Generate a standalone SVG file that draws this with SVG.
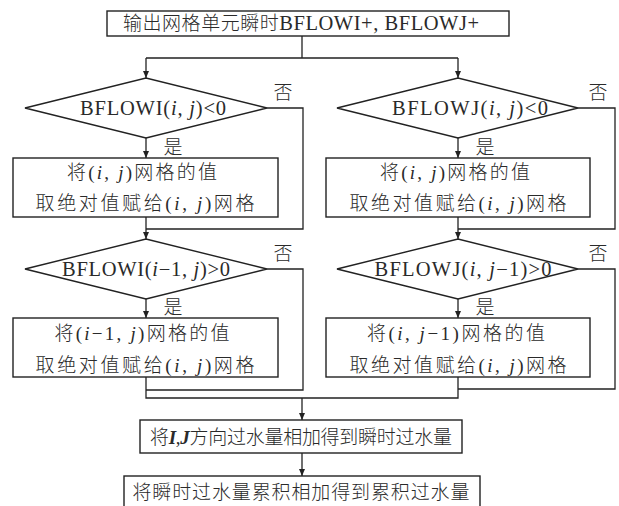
<svg xmlns="http://www.w3.org/2000/svg" width="619" height="506" viewBox="0 0 619 506">
<style>
.box{fill:#fff;stroke:#222;stroke-width:1.4}
.ln{fill:none;stroke:#222;stroke-width:1.3}
text{font-family:"Liberation Serif","Noto Sans CJK SC",serif;font-size:19px;font-weight:300;fill:#2a2a2a;text-anchor:middle}
.lat{font-size:20.5px}
.it{font-style:italic}
.bi{font-style:italic;font-weight:bold}
</style>
<defs>
<marker id="ah" markerWidth="8" markerHeight="8" refX="7" refY="4" orient="auto" markerUnits="userSpaceOnUse">
<path d="M0,1 L7,4 L0,7 z" fill="#222"/>
</marker>
</defs>
<rect width="619" height="506" fill="#fff"/>
<g id="connectors">
<path class="ln" d="M302,36 V58 M146,58 H458"/>
<path class="ln" d="M146,58 V78" marker-end="url(#ah)"/>
<path class="ln" d="M458,58 V78" marker-end="url(#ah)"/>
<path class="ln" d="M146,138 V158" marker-end="url(#ah)"/>
<path class="ln" d="M458,138 V158" marker-end="url(#ah)"/>
<path class="ln" d="M267,108 H303 V229 H146"/>
<path class="ln" d="M578,108 H615 V229 H458"/>
<path class="ln" d="M146,217 V239" marker-end="url(#ah)"/>
<path class="ln" d="M458,217 V239" marker-end="url(#ah)"/>
<path class="ln" d="M146,299 V318" marker-end="url(#ah)"/>
<path class="ln" d="M458,299 V318" marker-end="url(#ah)"/>
<path class="ln" d="M267,269 H303 V390 H146"/>
<path class="ln" d="M578,269 H615 V389 H458"/>
<path class="ln" d="M146,377 V398 H458 V377"/>
<path class="ln" d="M302,398 V420" marker-end="url(#ah)"/>
<path class="ln" d="M302,453 V476" marker-end="url(#ah)"/>
</g>
<g id="start">
<rect class="box" x="107" y="11" width="402" height="25"/>
<text x="301" y="30" textLength="356" lengthAdjust="spacing">输出网格单元瞬时<tspan class="lat">BFLOWI+, BFLOWJ+</tspan></text>
</g>
<g id="d1">
<polygon class="box" points="25,108 146,78 267,108 146,138"/>
<text class="lat" x="153" y="115" textLength="146" lengthAdjust="spacing">BFLOWI(<tspan class="it">i</tspan>, <tspan class="it">j</tspan>)&lt;0</text>
<text x="283" y="99">否</text>
<text x="173" y="154">是</text>
</g>
<g id="b1">
<rect class="box" x="13" y="158" width="265" height="59"/>
<text x="142" y="179" textLength="150" lengthAdjust="spacing">将(<tspan class="it">i</tspan>, <tspan class="it">j</tspan>)网格的值</text>
<text x="145" y="210" textLength="219" lengthAdjust="spacing">取绝对值赋给(<tspan class="it">i</tspan>, <tspan class="it">j</tspan>)网格</text>
</g>
<g id="d2">
<polygon class="box" points="337,108 458,78 578,108 458,138"/>
<text class="lat" x="470" y="115" textLength="156" lengthAdjust="spacing">BFLOWJ(<tspan class="it">i</tspan>, <tspan class="it">j</tspan>)&lt;0</text>
<text x="598" y="99">否</text>
<text x="485" y="154">是</text>
</g>
<g id="b2">
<rect class="box" x="326" y="158" width="264" height="59"/>
<text x="455" y="179" textLength="150" lengthAdjust="spacing">将(<tspan class="it">i</tspan>, <tspan class="it">j</tspan>)网格的值</text>
<text x="458" y="210" textLength="217" lengthAdjust="spacing">取绝对值赋给(<tspan class="it">i</tspan>, <tspan class="it">j</tspan>)网格</text>
</g>
<g id="d3">
<polygon class="box" points="25,269 146,239 267,269 146,299"/>
<text class="lat" x="146" y="276" textLength="168" lengthAdjust="spacing">BFLOWI(<tspan class="it">i</tspan>−1, <tspan class="it">j</tspan>)&gt;0</text>
<text x="283" y="260">否</text>
<text x="173" y="314">是</text>
</g>
<g id="b3">
<rect class="box" x="13" y="318" width="265" height="59"/>
<text x="142" y="340" textLength="175" lengthAdjust="spacing">将(<tspan class="it">i</tspan>−1, <tspan class="it">j</tspan>)网格的值</text>
<text x="145" y="372" textLength="219" lengthAdjust="spacing">取绝对值赋给(<tspan class="it">i</tspan>, <tspan class="it">j</tspan>)网格</text>
</g>
<g id="d4">
<polygon class="box" points="337,269 458,239 578,269 458,299"/>
<text class="lat" x="463" y="276" textLength="177" lengthAdjust="spacing">BFLOWJ(<tspan class="it">i</tspan>, <tspan class="it">j</tspan>−1)&gt;0</text>
<text x="598" y="260">否</text>
<text x="485" y="314">是</text>
</g>
<g id="b4">
<rect class="box" x="326" y="318" width="264" height="59"/>
<text x="456" y="340" textLength="178" lengthAdjust="spacing">将(<tspan class="it">i</tspan>, <tspan class="it">j</tspan>−1)网格的值</text>
<text x="458" y="372" textLength="217" lengthAdjust="spacing">取绝对值赋给(<tspan class="it">i</tspan>, <tspan class="it">j</tspan>)网格</text>
</g>
<g id="sum">
<rect class="box" x="140" y="420" width="322" height="33"/>
<text x="301" y="444" textLength="302" lengthAdjust="spacing">将<tspan class="bi">I</tspan>,<tspan class="bi">J</tspan>方向过水量相加得到瞬时过水量</text>
</g>
<g id="acc">
<rect class="box" x="124" y="476" width="356" height="40"/>
<text x="301" y="499" textLength="337" lengthAdjust="spacing">将瞬时过水量累积相加得到累积过水量</text>
</g>
</svg>
